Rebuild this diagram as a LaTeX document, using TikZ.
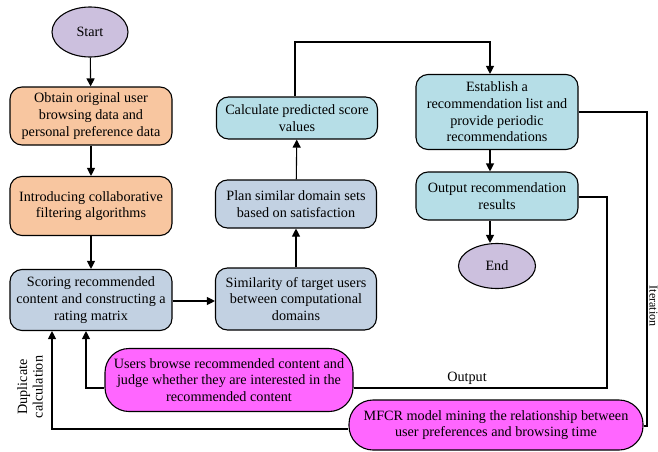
\documentclass[tikz,border=0pt]{standalone}
\usepackage{fontspec}
\setmainfont{Liberation Serif}
\usetikzlibrary{arrows.meta,shapes.geometric}

\definecolor{termfill}{RGB}{204,192,222}
\definecolor{orangefill}{RGB}{248,198,160}
\definecolor{greyblue}{RGB}{194,209,226}
\definecolor{cyanfill}{RGB}{182,222,231}
\definecolor{magentafill}{RGB}{255,102,255}

\tikzset{
  base/.style={draw=black, line width=1.1pt, align=center, inner sep=0pt,
    font=\fontsize{14.2}{16.7}\selectfont},
  term/.style={base, ellipse, fill=termfill},
  stepbox/.style={base, rectangle, rounded corners=12pt, minimum width=162pt},
  orangebox/.style={stepbox, fill=orangefill},
  greybox/.style={stepbox, fill=greyblue},
  cyanbox/.style={stepbox, fill=cyanfill},
  pinkbox/.style={base, rectangle, rounded corners=24pt, fill=magentafill},
  conn/.style={line width=1.1pt, draw=black},
  arr/.style={conn, -{Triangle[length=8pt,width=8pt]}},
  lbl/.style={font=\fontsize{14.2}{15.5}\selectfont, align=center},
}

\begin{document}
\begin{tikzpicture}[x=1pt,y=-1pt]
\useasboundingbox (0,0) rectangle (658,452);

% left column
\node[term, minimum width=76pt, minimum height=50pt] (start) at (90,32) {Start};
\node[orangebox, minimum height=58pt] (obtain) at (91,116)
  {Obtain original user\\browsing data and\\personal preference data};
\node[orangebox, minimum height=59pt] (intro) at (91,206)
  {Introducing collaborative\\filtering algorithms};
\node[greybox, minimum height=61pt] (score) at (91,300)
  {Scoring recommended\\content and constructing a\\rating matrix};

% middle column
\node[greybox, minimum width=161pt, minimum height=62pt] (simil) at (296,299)
  {Similarity of target users\\between computational\\domains};
\node[greybox, minimum width=161pt, minimum height=48pt] (plan) at (296,204)
  {Plan similar domain sets\\based on satisfaction};
\node[cyanbox, minimum width=161pt, minimum height=42pt] (calc) at (297,118)
  {Calculate predicted score\\values};

% right column
\node[cyanbox, minimum height=75pt] (establish) at (497,112)
  {Establish a\\recommendation list and\\provide periodic\\recommendations};
\node[cyanbox, minimum height=48pt] (outres) at (497,196)
  {Output recommendation\\results};
\node[term, minimum width=77pt, minimum height=45pt] (end) at (497,266) {End};

% feedback boxes
\node[pinkbox, minimum width=248pt, minimum height=63pt] (users) at (229,380)
  {Users browse recommended content and\\judge whether they are interested in the\\recommended content};
\node[pinkbox, minimum width=294pt, minimum height=50pt] (mfcr) at (496,425)
  {MFCR model mining the relationship between\\user preferences and browsing time};

% main flow
\draw[arr] (start) -- (obtain);
\draw[arr] (obtain) -- (intro);
\draw[arr] (intro) -- (score);
\draw[arr] (score.east |- 0,301) -- (simil.west |- 0,301);
\draw[arr] (simil) -- (plan);
\draw[arr] (plan) -- (calc);
\coordinate (topturn) at (295,42);
\draw[arr] (calc.north -| topturn) -- (topturn) -| ([xshift=-7pt]establish.north);
\draw[arr] ([xshift=-7pt]establish.south) -- ([xshift=-7pt]outres.north);
\draw[arr] ([xshift=-7pt]outres.south) -- ([xshift=-7pt]end.north);

% output loop back to the users
\coordinate (outturn) at (607,197);
\draw[conn] (outres.east |- outturn) -- (outturn) |- ([yshift=-8pt]users.east);
\node[lbl] (outlbl) at (467,378) {Output};
\coordinate (userturn) at (86,388);
\draw[arr] ([yshift=-8pt]users.west) -- (userturn) -- (userturn |- score.south);

% iteration loop through the model
\coordinate (iterturn) at (647,112);
\draw[conn] (establish.east) -- (iterturn) |- ([yshift=-1pt]mfcr.east);
\node[lbl, font=\fontsize{12}{13}\selectfont, rotate=-90, anchor=base, inner sep=0pt]
  (iterlbl) at (649.5,306) {Iteration};
\coordinate (dupturn) at (52,429);
\draw[arr] ([yshift=-4pt]mfcr.west) -- (dupturn) -- (dupturn |- score.south);
\node[lbl, rotate=90] (duplbl) at (30,387) {Duplicate\\calculation};
\end{tikzpicture}
\end{document}
